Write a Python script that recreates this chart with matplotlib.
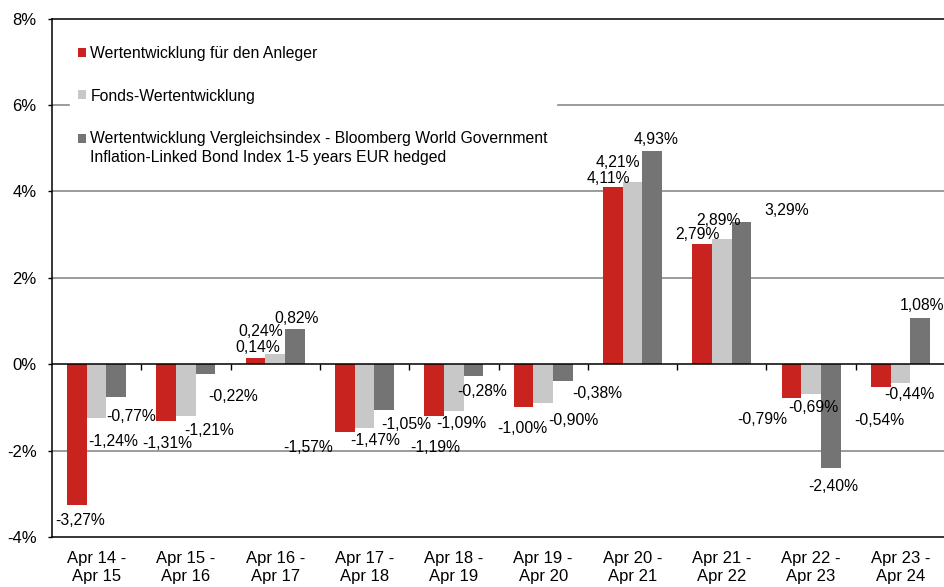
import numpy as np
import matplotlib
matplotlib.use("Agg")
import matplotlib.pyplot as plt

plt.rcParams['font.family'] = ['Liberation Sans', 'DejaVu Sans']

periods = ["Apr 14 -\nApr 15", "Apr 15 -\nApr 16", "Apr 16 -\nApr 17", "Apr 17 -\nApr 18",
           "Apr 18 -\nApr 19", "Apr 19 -\nApr 20", "Apr 20 -\nApr 21", "Apr 21 -\nApr 22",
           "Apr 22 -\nApr 23", "Apr 23 -\nApr 24"]
anleger = [-3.27, -1.31, 0.14, -1.57, -1.19, -1.00, 4.11, 2.79, -0.79, -0.54]
fonds = [-1.24, -1.21, 0.24, -1.47, -1.09, -0.90, 4.21, 2.89, -0.69, -0.44]
index = [-0.77, -0.22, 0.82, -1.05, -0.28, -0.38, 4.93, 3.29, -2.40, 1.08]

names = ["Wertentwicklung für den Anleger",
         "Fonds-Wertentwicklung",
         "Wertentwicklung Vergleichsindex - Bloomberg World Government\n"
         "Inflation-Linked Bond Index 1-5 years EUR hedged"]
colors = ["#c9231f", "#c8c8c8", "#747474"]

# label offsets in pixels (dx, dy down) from the bar end, like the excel chart places them
offsets = [
    [(3, 15), (1, 23), (2, -11), (-37, 15), (1, 32), (-1, 21), (-4, -8), (-5, -9), (-29, 21), (-1, 33)],
    [(17, 24), (23, 14), (-15, -22), (11, 13), (7, 12), (30, 17), (-15, -20), (-3, -19), (2, 14), (9, 11)],
    [(15, 19), (28, 23), (2, -10), (22, 15), (9, 15), (34, 13), (4, -12), (45, -12), (3, 19), (2, -12)],
]

fig = plt.figure(figsize=(9.44, 5.87), dpi=100)
ax = fig.add_axes([52 / 944, 1 - 537 / 587, 893 / 944, (537 - 18.5) / 587])

x = np.arange(len(periods))
w = 0.22
series = [anleger, fonds, index]
for k, vals in enumerate(series):
    bars = ax.bar(x + (k - 1) * w, vals, w, color=colors[k], label=names[k], zorder=3)
    for b, v, (dx, dy) in zip(bars, vals, offsets[k]):
        ax.annotate(f"{v:.2f}%".replace(".", ","), (b.get_x() + b.get_width() / 2, v),
                    xytext=(dx, -dy), textcoords="offset pixels",
                    ha="center", va="center", fontsize=11.3, color="black", zorder=5)

ax.set_xlim(-0.5, len(periods) - 0.5)
ax.set_ylim(-4, 8)
ax.set_yticks(np.arange(-4, 9, 2))
ax.set_yticklabels([f"{t}%" for t in range(-4, 9, 2)])
ax.set_xticks(x)
ax.set_xticklabels(periods, linespacing=1.3)
ax.tick_params(axis="x", length=0, pad=10, labelsize=12)
ax.tick_params(axis="y", length=3, pad=8, labelsize=12, width=1)

for t in [-2, 2, 4, 6]:
    ax.axhline(t, color="#808080", lw=1.1, zorder=1)
ax.axhline(0, color="black", lw=1.1, zorder=4)

# little tick marks on the zero line between the groups
sec = ax.secondary_xaxis(4 / 12)
sec.set_xticks(np.arange(0.5, len(periods) - 0.5, 1))
sec.set_xticklabels([])
sec.tick_params(length=4, direction="out", width=1)
sec.spines["bottom"].set_visible(False)

ax.spines["right"].set_visible(False)
for s in ["left", "bottom", "top"]:
    ax.spines[s].set_linewidth(1.1)
    ax.spines[s].set_color("black")

leg = ax.legend(loc="upper left", bbox_to_anchor=(0.02, 0.962), borderaxespad=0,
                fontsize=11.3, frameon=True, fancybox=False, framealpha=1,
                edgecolor="white", facecolor="white", handlelength=0.5, handleheight=0.5,
                handletextpad=0.3, labelspacing=1.75, borderpad=0.5)
leg.set_zorder(2)
leg.get_texts()[2].set_linespacing(1.35)
# excel puts the marker next to the first line of the two-line entry
h = leg.legend_handles[2]
h.set_y(h.get_y() + 7)

fig.savefig("out.png", dpi=100)
